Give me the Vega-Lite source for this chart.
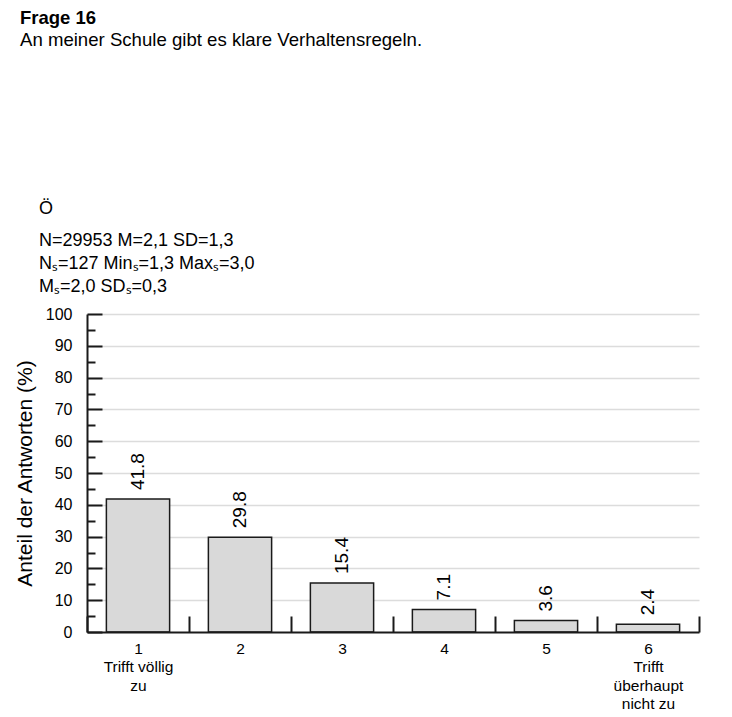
{
  "$schema": "https://vega.github.io/schema/vega-lite/v6.json",
  "background": "white",
  "padding": {"left": 14, "top": 8, "right": 10, "bottom": 5},
  "config": {
    "font": "Liberation Sans",
    "view": {"stroke": null},
    "concat": {"spacing": 0}
  },
  "title": {
    "text": "Frage 16",
    "subtitle": "An meiner Schule gibt es klare Verhaltensregeln.",
    "anchor": "start",
    "frame": "group",
    "dx": -67,
    "offset": 150,
    "font": "Liberation Sans",
    "fontSize": 18.5,
    "fontWeight": "bold",
    "color": "#000000",
    "subtitleFont": "Liberation Sans",
    "subtitleFontSize": 18.6,
    "subtitleColor": "#000000",
    "subtitlePadding": 4
  },
  "vconcat": [
    {
      "title": {
        "text": "Ö",
        "subtitle": ["N=29953 M=2,1 SD=1,3", "Nₛ=127 Minₛ=1,3 Maxₛ=3,0", "Mₛ=2,0 SDₛ=0,3"],
        "anchor": "start",
        "frame": "group",
        "dx": -48,
        "offset": 10,
        "font": "Liberation Sans",
        "fontSize": 18,
        "fontWeight": "normal",
        "color": "#000000",
        "subtitleFont": "Liberation Sans",
        "subtitleFontSize": 18,
        "subtitleColor": "#000000",
        "subtitleLineHeight": 23,
        "subtitlePadding": 14
      },
      "width": 612,
      "height": 318,
      "data": {
        "values": [
          {"kategorie": "1", "anteil": 41.8},
          {"kategorie": "2", "anteil": 29.8},
          {"kategorie": "3", "anteil": 15.4},
          {"kategorie": "4", "anteil": 7.1},
          {"kategorie": "5", "anteil": 3.6},
          {"kategorie": "6", "anteil": 2.4}
        ]
      },
      "encoding": {
        "x": {
          "field": "kategorie",
          "type": "nominal",
          "sort": null,
          "scale": {"paddingInner": 0, "paddingOuter": 0},
          "axis": {
            "title": null,
            "labelAngle": 0,
            "labelFont": "Liberation Sans",
            "labelFontSize": 15.5,
            "labelColor": "#000000",
            "labelLineHeight": 18.5,
            "labelPadding": 25,
            "labelExpr": "datum.value == '1' ? ['1', 'Trifft völlig', 'zu'] : datum.value == '6' ? ['6', 'Trifft', 'überhaupt', 'nicht zu'] : datum.label",
            "tickBand": "extent",
            "tickSize": -16,
            "tickWidth": 2,
            "tickColor": "#1a1a1a",
            "domainColor": "#1a1a1a",
            "domainWidth": 2,
            "grid": false,
            "zindex": 2
          }
        },
        "y": {
          "field": "anteil",
          "type": "quantitative",
          "scale": {"domain": [0, 100], "nice": false},
          "axis": {
            "title": "Anteil der Antworten (%)",
            "titleFont": "Liberation Sans",
            "titleFontSize": 21,
            "titleFontWeight": "normal",
            "titleColor": "#000000",
            "titlePadding": 10,
            "values": [0, 5, 10, 15, 20, 25, 30, 35, 40, 45, 50, 55, 60, 65, 70, 75, 80, 85, 90, 95, 100],
            "labelExpr": "datum.value % 10 === 0 ? datum.label : ''",
            "labelFont": "Liberation Sans",
            "labelFontSize": 16,
            "labelColor": "#000000",
            "labelPadding": 30,
            "tickSize": {"condition": {"test": "datum.value % 10 === 0", "value": -15}, "value": -8},
            "tickWidth": 2,
            "tickColor": "#1a1a1a",
            "domainColor": "#1a1a1a",
            "domainWidth": 2,
            "grid": true,
            "gridColor": "#dcdcdc",
            "gridWidth": 1.5,
            "gridOpacity": {"condition": {"test": "datum.value % 10 === 0 && datum.value > 0", "value": 1}, "value": 0},
            "zindex": 0
          }
        }
      },
      "layer": [
        {
          "mark": {"type": "bar", "width": {"band": 0.62}, "fill": "#d9d9d9", "stroke": "#1a1a1a", "strokeWidth": 1.5}
        },
        {
          "mark": {"type": "text", "angle": -90, "align": "left", "baseline": "middle", "dx": 9, "font": "Liberation Sans", "fontSize": 19, "color": "#000000"},
          "encoding": {"text": {"field": "anteil", "type": "quantitative", "format": ".1f"}}
        }
      ]
    }
  ]
}
